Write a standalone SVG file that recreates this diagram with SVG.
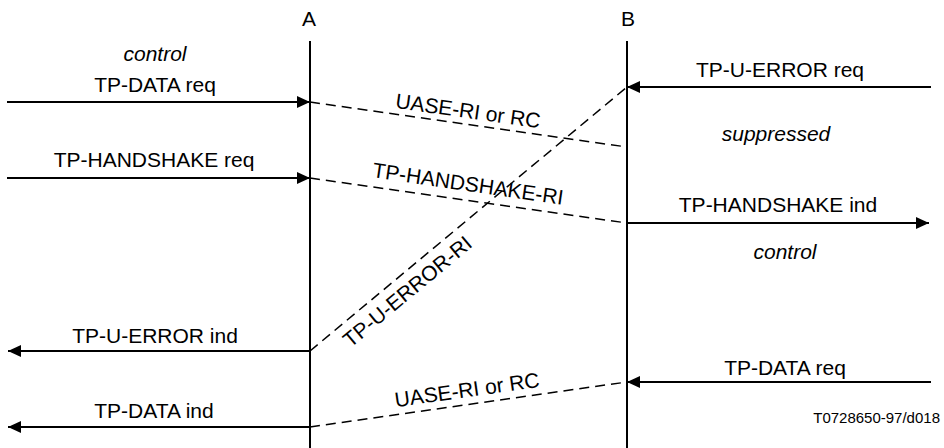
<svg xmlns="http://www.w3.org/2000/svg" width="944" height="448" viewBox="0 0 944 448">
<style>
text{font-family:"Liberation Sans",Arial,sans-serif;font-size:21px;fill:#000}
.it{font-style:italic}
.solid{stroke:#000;stroke-width:2;fill:none}
.dash{stroke:#000;stroke-width:1.5;fill:none;stroke-dasharray:10 6}
.life{stroke:#000;stroke-width:2}
</style>
<defs>
<marker id="ah" viewBox="0 0 13 12" refX="13" refY="6" markerWidth="13" markerHeight="12" markerUnits="userSpaceOnUse" orient="auto">
<path d="M0,0 L13,6 L0,12 Z" fill="#000"/>
</marker>
</defs>
<rect width="944" height="448" fill="#fff"/>
<g id="lifeline-A">
<text x="309" y="26" text-anchor="middle">A</text>
<line class="life" x1="310" y1="41" x2="310" y2="448"/>
</g>
<g id="lifeline-B">
<text x="628" y="26" text-anchor="middle">B</text>
<line class="life" x1="627" y1="41" x2="627" y2="448"/>
</g>
<g id="connectors">
<line class="solid" x1="7" y1="102" x2="310" y2="102" marker-end="url(#ah)"/>
<line class="solid" x1="7" y1="178" x2="310" y2="178" marker-end="url(#ah)"/>
<line class="solid" x1="931" y1="87" x2="627" y2="87" marker-end="url(#ah)"/>
<line class="solid" x1="627" y1="223" x2="929" y2="223" marker-end="url(#ah)"/>
<line class="solid" x1="310" y1="351" x2="8" y2="351" marker-end="url(#ah)"/>
<line class="solid" x1="931" y1="382" x2="627" y2="382" marker-end="url(#ah)"/>
<line class="solid" x1="310" y1="427" x2="8" y2="427" marker-end="url(#ah)"/>
<line class="dash" x1="310" y1="102" x2="627" y2="147"/>
<line class="dash" x1="310" y1="178" x2="627" y2="223"/>
<line class="dash" x1="310" y1="351" x2="627" y2="87"/>
<line class="dash" x1="310" y1="427" x2="627" y2="382"/>
<text x="467" y="118" text-anchor="middle" transform="rotate(8 467 118)">UASE-RI or RC</text>
<text x="467" y="191" text-anchor="middle" transform="rotate(8.3 467 191)">TP-HANDSHAKE-RI</text>
<text x="412" y="297" text-anchor="middle" transform="rotate(-39.8 412 297)">TP-U-ERROR-RI</text>
<text x="468" y="397" text-anchor="middle" transform="rotate(-8 468 397)">UASE-RI or RC</text>
</g>
<g id="labels-left">
<text x="155" y="61" text-anchor="middle" class="it">control</text>
<text x="155" y="92" text-anchor="middle">TP-DATA req</text>
<text x="154" y="167" text-anchor="middle">TP-HANDSHAKE req</text>
<text x="155" y="343" text-anchor="middle">TP-U-ERROR ind</text>
<text x="154" y="418" text-anchor="middle">TP-DATA ind</text>
</g>
<g id="labels-right">
<text x="780" y="77" text-anchor="middle">TP-U-ERROR req</text>
<text x="776" y="141" text-anchor="middle" class="it">suppressed</text>
<text x="778" y="212" text-anchor="middle">TP-HANDSHAKE ind</text>
<text x="785" y="259" text-anchor="middle" class="it">control</text>
<text x="785" y="375" text-anchor="middle">TP-DATA req</text>
<text x="940" y="423" text-anchor="end" style="font-size:15px">T0728650-97/d018</text>
</g>
</svg>
